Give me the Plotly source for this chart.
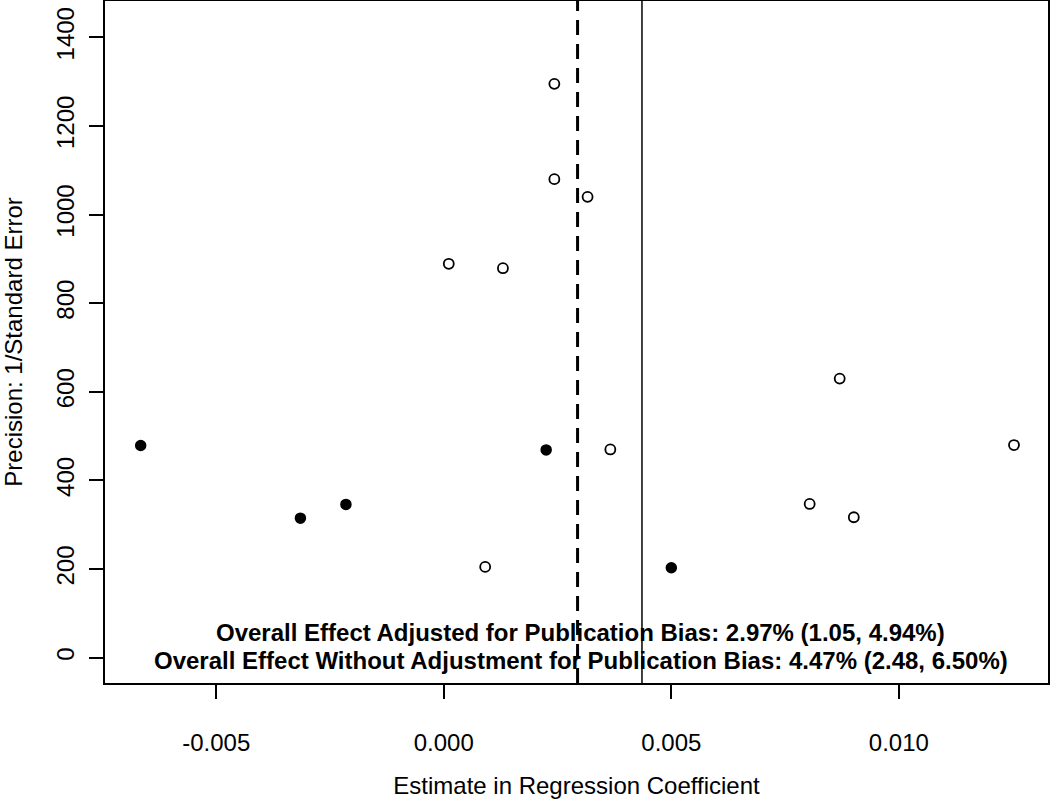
import plotly.graph_objects as go

# Observed studies (open circles)
obs_estimate = [0.00243, 0.00243, 0.00316, 0.00011, 0.00130, 0.00366, 0.00091,
                0.00870, 0.00804, 0.00901, 0.01253]
obs_precision = [1295, 1080, 1040, 889, 879, 470, 205, 630, 347, 317, 480]

# Imputed (filled) studies from trim-and-fill
fill_estimate = [-0.00666, -0.00315, -0.00215, 0.00225, 0.00500]
fill_precision = [479, 315, 346, 469, 203]

adjusted_effect = 0.00294
unadjusted_effect = 0.004355

x_ticks = [-0.005, 0.000, 0.005, 0.010]
x_tick_labels = ["-0.005", "0.000", "0.005", "0.010"]
y_ticks = [0, 200, 400, 600, 800, 1000, 1200, 1400]

note_lines = [
    "Overall Effect Adjusted for Publication Bias: 2.97% (1.05, 4.94%)",
    "Overall Effect Without Adjustment for Publication Bias: 4.47% (2.48, 6.50%)",
]
note_x = 0.003015
note_y = [58, -6]

FONT = "Liberation Sans, Arial, Helvetica, sans-serif"

fig = go.Figure()
fig.add_trace(go.Scatter(
    x=obs_estimate, y=obs_precision, mode="markers",
    marker=dict(symbol="circle-open", size=10, color="black", line=dict(width=1.8, color="black")),
    showlegend=False, hoverinfo="skip"))
fig.add_trace(go.Scatter(
    x=fill_estimate, y=fill_precision, mode="markers",
    marker=dict(symbol="circle", size=10, color="black", line=dict(width=1.5, color="black")),
    showlegend=False, hoverinfo="skip"))

fig.add_shape(type="line", xref="x", yref="paper", x0=adjusted_effect, x1=adjusted_effect,
              y0=0, y1=1, line=dict(color="black", width=3, dash="15px,9px"))
fig.add_shape(type="line", xref="x", yref="paper", x0=unadjusted_effect, x1=unadjusted_effect,
              y0=0, y1=1, line=dict(color="black", width=1.5))

for txt, yy in zip(note_lines, note_y):
    fig.add_annotation(x=note_x, y=yy, text="<b>" + txt + "</b>", showarrow=False,
                       xanchor="center", yanchor="middle",
                       font=dict(family=FONT, size=24, color="black"))

fig.update_layout(
    width=1050, height=802,
    margin=dict(l=105, r=2, t=1, b=119, autoexpand=False),
    paper_bgcolor="white", plot_bgcolor="white",
    font=dict(family=FONT, size=24, color="black"),
    showlegend=False,
)
fig.update_xaxes(
    range=[-0.007444, 0.013277], tickmode="array", tickvals=x_ticks, ticktext=x_tick_labels,
    ticks="outside", ticklen=14, tickwidth=1.5, tickcolor="black",
    showline=True, linecolor="black", linewidth=2, mirror=True,
    showgrid=False, zeroline=False, automargin=False,
    tickfont=dict(size=24), ticklabelstandoff=23,
    title=dict(text="Estimate in Regression Coefficient", font=dict(size=24), standoff=22),
)
fig.update_yaxes(
    range=[-57, 1482], tickmode="array", tickvals=y_ticks,
    ticks="outside", ticklen=14, tickwidth=1.5, tickcolor="black", tickangle=-90,
    showline=True, linecolor="black", linewidth=2, mirror=True,
    showgrid=False, zeroline=False, automargin=False,
    tickfont=dict(size=24), ticklabelstandoff=5,
    title=dict(text="Precision: 1/Standard Error", font=dict(size=24), standoff=26),
)

fig.write_html("out.html", config={"displayModeBar": False},
               post_script="document.body.style.margin='0';")
